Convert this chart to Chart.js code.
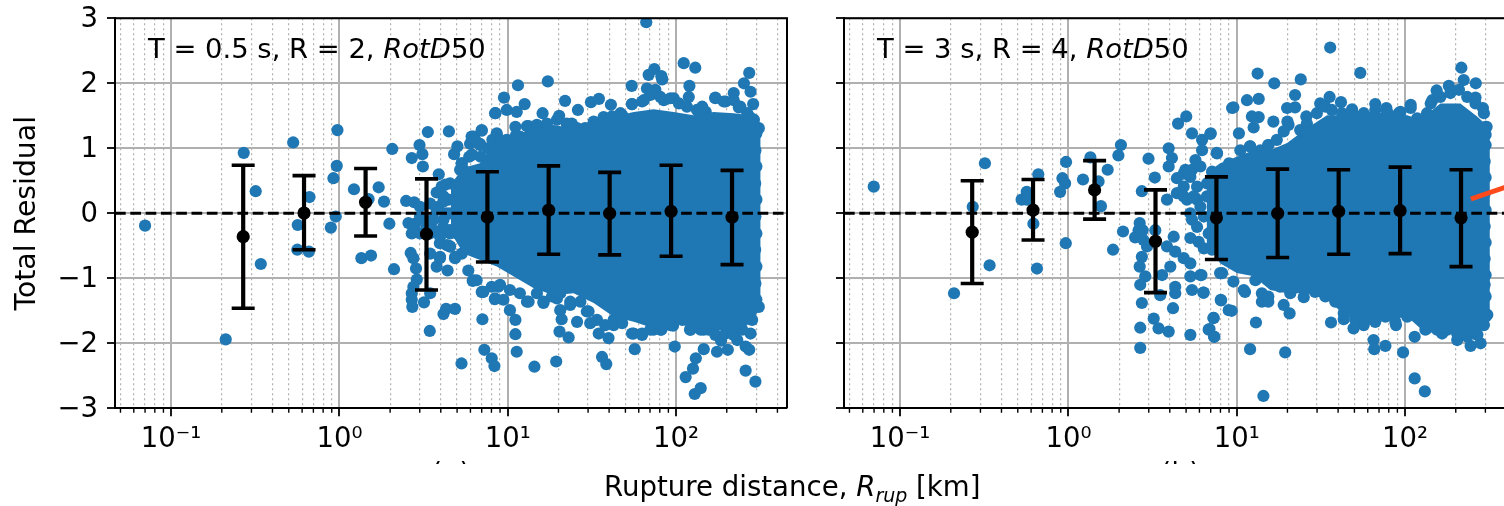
<!DOCTYPE html>
<html>
<head>
<meta charset="utf-8">
<script src="https://cdn.jsdelivr.net/npm/chart.js@4/dist/chart.umd.js"></script>
<style>
html, body { margin: 0; padding: 0; background: #fff; width: 1504px; height: 506px; overflow: hidden; }
body { position: relative; font-family: "DejaVu Sans", sans-serif; color: #000; }
canvas { position: absolute; top: 0; }
.note { position: absolute; top: 31px; font-size: 27.4px; line-height: 36px; white-space: nowrap; }
.xlabel { position: absolute; left: 604px; top: 469px; font-size: 27.6px; line-height: 36px; white-space: nowrap; }
.xlabel sub { font-size: 19px; line-height: 0; vertical-align: -6px; }
.cut { position: absolute; top: 460.5px; height: 3px; overflow: hidden; font-size: 27px; line-height: 32px; width: 50px; }
.cut span { position: absolute; top: -6px; left: 0; }
</style>
</head>
<body>
<canvas id="left" width="807" height="506" style="left:0"></canvas>
<canvas id="right" width="736" height="506" style="left:800px"></canvas>
<div class="note" style="left:148px">T = 0.5 s, R = 2, <i>RotD</i>50</div>
<div class="note" style="left:877px">T = 3 s, R = 4, <i>RotD</i>50</div>
<div class="cut" style="left:432px"><span>(a)</span></div>
<div class="cut" style="left:1161px"><span>(b)</span></div>
<div class="xlabel">Rupture distance, <i>R<sub>rup</sub></i> [km]</div>
<script>
const xMin = 0.0464, xMax = 456
const yMin = -3, yMax = 3
const xTicks = [0.05,0.06,0.07,0.08,0.09,0.1,0.2,0.3,0.4,0.5,0.6,0.7,0.8,0.9,1,2,3,4,5,6,7,8,9,10,20,30,40,50,60,70,80,90,100,200,300,400]
const xMajor = { 0.1: '10⁻¹', 1: '10⁰', 10: '10¹', 100: '10²' }
const yTicks = [-3,-2,-1,0,1,2,3]

// binned mean +- std, same bins on both panels
const binX = [0.268,0.616,1.43,3.29,7.57,17.5,40.3,93.4,215]
const leftMean = [-0.36,0.005,0.17,-0.32,-0.06,0.05,0,0.03,-0.06]
const leftHigh = [0.74,0.58,0.69,0.53,0.64,0.73,0.63,0.74,0.66]
const leftLow = [-1.46,-0.56,-0.35,-1.18,-0.75,-0.63,-0.64,-0.66,-0.79]
const rightMean = [-0.29,0.05,0.36,-0.43,-0.07,0,0.03,0.04,-0.07]
const rightHigh = [0.50,0.52,0.81,0.36,0.56,0.68,0.67,0.71,0.67]
const rightLow = [-1.08,-0.41,-0.09,-1.22,-0.71,-0.68,-0.63,-0.62,-0.82]

// the solid middle of each cloud, read as its upper and lower edge
const leftCloudX = [4.6,5.45,6.84,8.6,10.8,14.2,18.7,24.6,32.4,42.6,56,73.6,96.8,127,167,220,277,318]
const leftCloudTop = [0.45,0.7,0.77,1.13,1.18,1.31,1.36,1.31,1.44,1.49,1.56,1.6,1.56,1.51,1.56,1.54,1.51,1.31]
const leftCloudBottom = [-0.3,-0.62,-0.72,-0.82,-0.97,-1.15,-1.26,-1.23,-1.38,-1.59,-1.67,-1.77,-1.67,-1.77,-1.79,-1.82,-1.69,-1.44]
const rightCloudX = [6.62,7.96,10,12.6,15.8,19.9,26.1,34.4,45.2,59.4,78.2,103,123,162,213,268,319]
const rightCloudTop = [0.62,0.77,0.87,0.97,0.97,1.08,1.31,1.51,1.51,1.56,1.54,1.51,1.44,1.69,1.69,1.49,1.31]
const rightCloudBottom = [-0.46,-0.77,-0.92,-0.97,-1.18,-1.23,-1.23,-1.33,-1.59,-1.72,-1.64,-1.59,-1.77,-1.85,-1.87,-1.90,-1.64]

// single events around the solid part, [km, residual]
const leftPoints = [[0.07,-0.19],[0.211,-1.94],[0.27,0.93],[0.318,0.34],[0.341,-0.78],[0.531,1.09],[0.565,-0.18],[0.562,-0.56],[0.658,-0.59],[0.664,0.25],
[0.973,1.28],[0.964,0.73],[0.921,0.54],[0.951,-0.05],[0.889,-0.22],[1.22,0.37],[1.49,0.22],[1.71,0.4],[1.84,0.18],[1.35,-0.69],[1.54,-0.65],[2.06,0.99],[1.98,-0.16],[2.11,-0.86],
[2.69,0.85],[2.99,1.05],[3.11,0.91],[3.13,0.72],[3.35,1.25],[4.47,1.26],[3.89,0.6],[5.02,1.03],[4.8,0.91],[2.49,0.19],[2.78,0.17],[2.57,-0.15],[2.82,-0.16],[2.69,-0.31],[2.65,-0.61],[2.75,-0.69],[2.85,-0.85],[2.88,-1.02],[2.75,-1.13],[2.69,-1.23],[2.69,-1.33],[2.71,-1.44],
[3.18,-1.37],[3.46,-1.23],[3.44,-1.81],[4.15,-1.55],[4.3,-1.47],[4.86,-1.47],[7.07,-1.63],[7.05,-1.21],[8.37,-1.32],[5.31,-2.31],[7.26,-2.1],[8.03,-2.23],[8.33,-2.35],[8.41,1.54],[7.01,1.27],[6.25,1.18],[6.85,1.05],[5.97,1.07],[6.17,0.9],[5.33,0.77],[5.21,0.67],[4.54,0.46],[4.25,0.44],[3.78,0.32],[4.15,0.26],[3.87,0.1],[4.45,0.21],
[3.78,-0.82],[4.39,-0.88],[4.86,-0.69],[5.33,-0.62],[5.83,-0.88],[6.19,-1.04],[3.96,-0.67],[3.46,-0.62],[4.35,-0.49],[3.01,-0.05],[3.61,-0.1],[4.14,-0.21],[4.54,-0.31],[3.95,-0.46],[3.45,-0.31],[4.33,0],[4.75,0.21],[4.97,0],[5.08,0.41],[4.54,-0.51],[4.87,-0.67],[3.95,-0.69],[3.01,-0.31],[3.22,-0.1],[3.78,0.05],[4.14,0.18],[4.05,0.41],
[3.62,-0.26],[3.96,-0.36],[4.54,-0.26],[4.15,-0.1],[3.62,-0.1],[3.3,-0.21],[3.01,0.1],[3.46,0.15],[4.54,0],[4.98,0.41],[4.98,-0.31],[4.54,-0.51],
[5.45,0.62],[5.9,0.87],[6.9,0.87],[7.6,1],[8.1,1.13],[8.6,1.23],
[6.4,1.13],[7,1.28],[6.1,1.18],[6.84,1.07],[6.1,0.9],[5.32,0.77],[5.45,0.67],[9,1.13],[8.4,0.97],[9.5,1.78],[11.5,1.97],[17.3,2.03],[8.45,1.54],[9.86,1.59],[11.3,1.56],[12.6,1.68],[11.1,1.33],[13,1.34],[14.9,1.36],[16.1,1.54],[20.2,1.5],[21.9,1.73],[26.1,1.59],[24,1.38],[31.2,1.71],[34.8,1.76],[41,1.67],[46.7,1.54],[54.5,1.96],[54.7,1.68],[64.3,1.74],[66.5,2.94],[68.7,2.13],[74.3,2.22],[82.7,2.06],[81.8,2.11],[67.1,1.92],[75.3,1.9],[111,2.31],[130,2.24],[120,1.96],[119,1.79],[143,1.64],[96.8,1.77],[84.5,1.74],[171,1.78],[197,1.72],[220,1.85],[253,2],[272,2.16],[277,1.87],[287,1.68],[236,1.63],[274,1.48],
[9,1.1],[9.86,1.13],[11.1,1.18],[11.8,1.18],[13.3,1.34],[14.9,1.34],[17.1,1.38],[19.6,1.44],[22.4,1.38],[25.8,1.31],[28.8,1.31],[32.4,1.41],[37.1,1.48],[41.6,1.49],[47.8,1.51],[54.7,1.68],[62.8,1.72],[70.3,1.82],[80.7,1.79],[92.5,1.77],[104,1.69],[116,1.64],[133,1.59],[150,1.56],[171,1.77],[192,1.72],[220,1.74],[241,1.64],[265,1.54],[290,1.44],[310,1.31],
[6.25,-1.03],[7,-1.21],[8.41,-1.31],[9.42,-1.33],[8.79,-1.13],[10.3,-1.49],[11.1,-1.64],[11.1,-1.86],[11.3,-2.13],[13,-1.36],[16.3,-1.38],[19.6,-1.31],[14.4,-2.36],[19.4,-2.28],[20.3,-1.82],[23,-1.91],[20.9,-1.63],[20.5,-1.49],[23.5,-1.41],[25.8,-1.67],[29.5,-1.51],[30.9,-1.69],[34.7,-1.85],[39.7,-1.92],[42.6,-1.72],[36.3,-2.21],[38.5,-2.32],[56,-1.85],[62.8,-1.87],[56.8,-2.09],[73.6,-1.79],[81.8,-1.79],[95.9,-1.73],[98.2,-2.05],[121,-1.79],[146,-1.79],[146,-2.09],[131,-2.23],[126,-2.39],[114,-2.52],[140,-2.69],[129,-2.78],[175,-2.13],[185,-1.96],[203,-2.1],[231,-1.95],[277,-1.85],[259,-2.05],[272,-2.1],[259,-2.42],[296,-2.59],[241,-1.64],[296,-1.44],
[6.53,-1.03],[7.16,-1.21],[8.03,-1.13],[9,-1.1],[10.3,-1.18],[11.8,-1.23],[13.3,-1.36],[14.9,-1.23],[16.3,-1.36],[18.3,-1.28],[20.5,-1.23],[23.5,-1.36],[27,-1.36],[30.2,-1.51],[33.9,-1.64],[37.9,-1.72],[42.6,-1.64],[47.8,-1.69],[54.7,-1.85],[62.8,-1.85],[70.3,-1.79],[80.7,-1.79],[92.5,-1.72],[109,-1.64],[122,-1.79],[140,-1.79],[156,-1.79],[171,-1.87],[197,-1.85],[220,-1.87],[247,-1.79],[283,-1.64],[310,-1.44],
[295,1.33],[300,1.23],[296,0.97],[300,0.72],[295,0.46],[300,0.21],[296,-0.05],[300,-0.31],[295,-0.56],[300,-0.82],[296,-1.08],[300,-1.33]]
const rightPoints = [[0.0697,0.41],[0.209,-1.23],[0.27,0.1],[0.319,0.77],[0.34,-0.8],[0.662,0.6],[0.565,0.33],[0.527,0.21],[0.565,0.21],[0.619,-0.16],[0.65,-0.85],[0.968,0.79],[0.921,0.54],[0.955,0.46],[0.892,0.33],[0.964,-0.46],[1.22,0.52],[1.35,0.86],[1.51,0.49],[1.71,0.67],[1.56,0.11],[2.05,1.05],[1.98,0.89],[2.11,-0.28],[1.84,-0.56],
[2.99,0.84],[3.26,0.55],[2.73,0.34],[2.65,-0.15],[2.61,-0.26],[2.76,-0.26],[2.49,-0.37],[2.79,-0.41],[2.93,-0.51],[2.73,-0.67],[2.65,-0.82],[2.86,-0.97],[2.67,-1.1],[2.73,-1.38],[3.21,-1.62],[2.67,-1.76],[2.67,-2.07],[3.43,-1.77],[3.94,-1.82],[3.51,-1.26],[4.18,-1.46],[5.3,-1.87],[6.81,-1.79],[7.36,-1.9],[7.3,-1.61],[8.07,-1.34],[8.96,-1.49],[6.36,-1.22],[5.42,-1.18],[4.31,-1.23],[4.31,-1.13],[5.3,-0.97],[6.08,-0.95],[4.03,-0.82],[3.6,-0.95],[3.85,-0.51],[4.31,-0.59],[4.84,-0.69],[5.3,-0.77],[4.22,-0.36],[5.3,-0.38],[5.94,-0.44],[3.28,-0.26],[5.42,-0.1],[5.81,-0.21],[5.06,0.21],[3.85,0.21],[4.41,0.54],[3.94,1],[4.12,0.85],[3.94,0.72],[4.48,1.38],[5.01,1.49],[5.42,1.23],[6.22,1.13],[6.97,1.22],[7.64,0.92],[6.22,0.97],[5.68,0.82],[9.38,1.62],[7.13,0.64],[4.95,0.67],[5.3,0.56],[5.81,0.41],[4.84,0.41],[4.41,0.31],[5.81,0.21],[6.65,0.26],[7.13,-0.56],[8.18,-0.92],[8.75,-0.72],
[4.84,0.61],[5.42,0.67],[6.08,0.72],[4.84,0.26],[5.55,0.26],[6.08,0.1],[6.66,0.46],[5.3,0],[6.37,-0.05],[6.81,-0.31],[6.37,-0.54],
[13.3,2.15],[16.7,2],[24,2.06],[35.9,2.55],[54.2,2.16],[22.2,1.82],[13.5,1.76],[11.5,1.74],[9.55,1.63],[12.3,1.49],[13.5,1.48],[12.6,1.32],[10.3,1.23],[7,1.23],[16.5,1.41],[19.9,1.62],[22.2,1.63],[25.9,1.49],[20,1.41],[7.6,0.93],[9,0.77],[12,1.03],[15.4,1.05],[31.3,1.69],[35.6,1.79],[41.6,1.71],[48.4,1.6],[66.5,1.68],[77.4,1.62],[108,1.67],[93.8,1.56],[154,1.89],[182,1.96],[216,2.24],[223,2.05],[263,2],[262,1.78],[290,1.62],[142,1.69],[301,1.33],[301,1.21],
[10.5,0.97],[12,1.03],[13.8,0.97],[15.4,1.05],[17.3,1.13],[19,1.26],[20.3,1.36],[23.8,1.28],[26.1,1.38],[29.9,1.54],[33.6,1.64],[36.7,1.59],[42.2,1.54],[48.4,1.56],[56.8,1.54],[66.5,1.59],[78.2,1.56],[91.6,1.54],[108,1.62],[118,1.46],[135,1.54],[145,1.74],[162,1.79],[186,1.85],[209,1.9],[234,1.79],[262,1.69],[294,1.54],[305,1.33],
[6.17,-0.95],[6.33,-1.22],[8.03,-1.33],[9.33,-1.5],[7.26,-1.61],[6.89,-1.78],[7.33,-1.9],[13,-1.68],[12,-2.09],[14.4,-2.81],[19.4,-2.14],[20.6,-1.54],[19,-1.41],[25,-1.29],[11.2,-1.21],[14.1,-1.36],[15.4,-1.36],[36.3,-1.68],[43.2,-1.63],[49.4,-1.77],[56.8,-1.72],[65,-1.95],[65.6,-2.09],[76.4,-2.04],[88.3,-1.72],[97.3,-2.14],[114,-1.9],[114,-2.54],[131,-2.74],[132,-1.79],[166,-1.85],[204,-1.95],[245,-2.04],[281,-2],[301,-1.59],[301,-1.28],
[7.96,-0.92],[9.55,-1.05],[11,-1.18],[12.9,-1.03],[14.1,-1.23],[15.4,-1.28],[18.1,-1.13],[20.8,-1.23],[25,-1.13],[29.2,-1.21],[33.6,-1.28],[38.5,-1.36],[43.2,-1.54],[50.6,-1.64],[56.8,-1.67],[66.5,-1.67],[76.4,-1.59],[87.5,-1.67],[103,-1.59],[118,-1.59],[135,-1.77],[155,-1.79],[178,-1.79],[204,-1.85],[234,-1.9],[269,-1.87],[294,-1.72],[308,-1.56],
[301,1.05],[297,0.8],[301,0.55],[297,0.3],[301,0.05],[297,-0.2],[301,-0.45],[297,-0.7],[301,-0.95],[297,-1.1]]
// start of the orange mark that runs off the right edge of the picture
const arrowX = [246,456]
const arrowY = [0.22,0.457]

const blue = '#1f77b4'
const gridGray = '#b0b0b0'

Chart.defaults.font.family = '"DejaVu Sans", sans-serif'
Chart.defaults.color = '#000'

function isMajor(v) {
    return xMajor[v] !== undefined
}

// top and right spines plus the short minor ticks
const framePlugin = {
    id: 'frame',
    afterDraw(chart) {
        const { ctx, chartArea: a, scales } = chart
        ctx.save()
        ctx.strokeStyle = '#000'
        ctx.lineWidth = 2
        ctx.beginPath()
        ctx.moveTo(a.left, a.top)
        ctx.lineTo(a.right, a.top)
        ctx.lineTo(a.right, a.bottom)
        ctx.stroke()
        ctx.lineWidth = 1.4
        ctx.beginPath()
        xTicks.filter(v => !isMajor(v)).forEach(v => {
            const px = scales.x.getPixelForValue(v)
            ctx.moveTo(px, a.bottom)
            ctx.lineTo(px, a.bottom + 4.5)
        })
        ctx.stroke()
        ctx.restore()
    }
}

function drawPanel(id, p) {
    const stems = []
    binX.forEach((x, i) => {
        stems.push({ x: x, y: p.low[i] }, { x: x, y: p.high[i] }, { x: x, y: NaN })
    })
    const caps = binX.map((x, i) => ({ x: x, y: p.low[i] })).concat(binX.map((x, i) => ({ x: x, y: p.high[i] })))
    const datasets = [
        { data: p.points.map(q => ({ x: q[0], y: q[1] })), backgroundColor: blue, borderWidth: 0, pointRadius: 6.1, clip: 0, order: 9 },
        { data: p.cloudX.map((x, i) => ({ x: x, y: p.cloudTop[i] })), showLine: true, borderWidth: 0, borderColor: blue, backgroundColor: blue, pointRadius: 0, fill: '+1', order: 8 },
        { data: p.cloudX.map((x, i) => ({ x: x, y: p.cloudBottom[i] })), showLine: true, borderWidth: 0, borderColor: blue, pointRadius: 0, fill: false, order: 8 },
        { data: [{ x: xMin, y: 0 }, { x: xMax, y: 0 }], showLine: true, borderColor: '#000', borderWidth: 3, borderDash: [10.7, 4.6], pointRadius: 0, order: 4 },
        { data: stems, showLine: true, spanGaps: false, borderColor: '#000', borderWidth: 4.2, pointRadius: 0, order: 3 },
        { data: caps, pointStyle: 'line', pointRadius: 11.5, borderColor: '#000', backgroundColor: '#000', borderWidth: 3.6, order: 2 },
        { data: binX.map((x, i) => ({ x: x, y: p.mean[i] })), backgroundColor: '#000', borderWidth: 0, pointRadius: 6.6, order: 1 }
    ]
    if (p.arrow) {
        datasets.push({ data: p.arrow[0].map((x, i) => ({ x: x, y: p.arrow[1][i] })), showLine: true, borderColor: '#ff4a1c', borderWidth: 5, pointRadius: 0, order: 0 })
    }
    return new Chart(document.getElementById(id), {
        type: 'scatter',
        data: { datasets: datasets },
        plugins: [framePlugin],
        options: {
            responsive: false,
            animation: false,
            events: [],
            layout: { padding: { left: 0, right: 20, top: 18.3, bottom: 0 } },
            plugins: { legend: { display: false }, tooltip: { enabled: false } },
            scales: {
                x: {
                    type: 'logarithmic',
                    min: xMin,
                    max: xMax,
                    afterBuildTicks(scale) { scale.ticks = xTicks.map(v => ({ value: v })) },
                    afterFit(scale) { scale.height = 97.7; scale.paddingLeft = 0; scale.paddingRight = 0 },
                    border: { display: true, color: '#000', width: 2, dash: c => (c.tick && !isMajor(c.tick.value)) ? [2, 3] : [] },
                    grid: {
                        color: gridGray,
                        lineWidth: c => (c.tick && isMajor(c.tick.value)) ? 2 : 1.2,
                        tickColor: c => (c.tick && isMajor(c.tick.value)) ? '#000' : 'rgba(0,0,0,0)',
                        tickWidth: 1.8,
                        tickLength: 8
                    },
                    ticks: {
                        autoSkip: false,
                        maxRotation: 0,
                        minRotation: 0,
                        padding: 7,
                        font: { size: 27.5 },
                        callback: v => xMajor[v] || ''
                    }
                },
                y: {
                    min: yMin,
                    max: yMax,
                    afterBuildTicks(scale) { scale.ticks = yTicks.map(v => ({ value: v })) },
                    afterFit(scale) { scale.width = p.axisWidth; scale.paddingTop = 0; scale.paddingBottom = 0 },
                    border: { display: true, color: '#000', width: 2 },
                    grid: { color: gridGray, lineWidth: 2, tickColor: '#000', tickWidth: 1.8, tickLength: 8 },
                    title: { display: p.title !== '', text: p.title, font: { size: 28.3 }, padding: { top: 11, bottom: 0 } },
                    ticks: {
                        display: p.showY,
                        padding: 9,
                        labelOffset: 2,
                        font: { size: 27.5 },
                        callback: v => String(v).replace('-', '−')
                    }
                }
            }
        }
    })
}

drawPanel('left', {
    points: leftPoints, cloudX: leftCloudX, cloudTop: leftCloudTop, cloudBottom: leftCloudBottom,
    mean: leftMean, high: leftHigh, low: leftLow,
    axisWidth: 115, title: 'Total Residual', showY: true
})
drawPanel('right', {
    points: rightPoints, cloudX: rightCloudX, cloudTop: rightCloudTop, cloudBottom: rightCloudBottom,
    mean: rightMean, high: rightHigh, low: rightLow, arrow: [arrowX, arrowY],
    axisWidth: 44, title: '', showY: false
})
</script>
</body>
</html>
